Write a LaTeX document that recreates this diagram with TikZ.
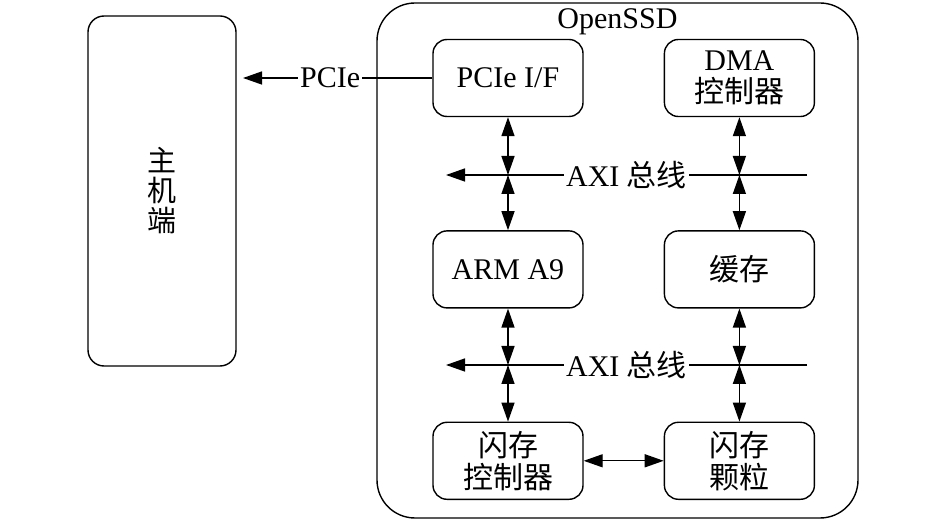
\documentclass[tikz,border=0pt]{standalone}
\usepackage{fontspec}
\setmainfont{Liberation Serif}
\newfontfamily\cjk{Noto Sans CJK SC}
\usetikzlibrary{arrows.meta, positioning}

\begin{document}
\begin{tikzpicture}[
    x=1pt, y=-1pt,
    node distance=113pt and 80pt,
    box/.style={rectangle, draw, line width=1.4pt, rounded corners=14pt, minimum width=150pt,
                minimum height=77pt, align=center, inner sep=0pt},
    arrow/.style={-{Triangle[length=19pt, width=13pt]}, line width=1.4pt},
    dblarrow/.style={{Triangle[length=19pt, width=13pt]}-{Triangle[length=19pt, width=13pt]}, line width=1.4pt},
    lbl/.style={fill=white, inner sep=2pt},
    every node/.style={font=\fontsize{30}{32}\selectfont}
]
\useasboundingbox (0,0) rectangle (946,521);

% Host and board outlines
\node[box, minimum width=148pt, minimum height=350pt, rounded corners=16pt,
      font=\fontsize{29}{30}\selectfont] (host) at (162,191) {{\cjk 主}\\{\cjk 机}\\{\cjk 端}};
\node[box, minimum width=481pt, minimum height=515pt, rounded corners=38pt] (ssd) at (617.5,260.5) {};
\node[anchor=north, inner sep=0pt] (ssdname) at ([yshift=-6pt]ssd.north) {OpenSSD};

% Left column
\node[box] (pcie) at (508,78) {PCIe I/F};
\node[box, below=of pcie] (arm) {ARM A9};
\node[box, below=of arm] (flashctrl) {{\cjk 闪存}\\{\cjk 控制器}};

% Right column
\node[box, right=of pcie] (dma) {DMA\\{\cjk 控制器}};
\node[box, below=of dma] (cache) {{\cjk 缓存}};
\node[box, below=of cache] (chips) {{\cjk 闪存}\\{\cjk 颗粒}};

% Bus ends
\coordinate (hostin) at (243,78);
\coordinate (bus1w) at (446,175);
\coordinate (bus1e) at (807,175);
\coordinate (bus2w) at (446,365);
\coordinate (bus2e) at (807,365);

% PCIe link and AXI buses
\draw[arrow] (pcie.west) -- node[lbl, pos=0.54] {PCIe} (hostin);
\draw[arrow] (bus1e) -- node[lbl] {AXI {\cjk 总线}} (bus1w);
\draw[arrow] (bus2e) -- node[lbl] {AXI {\cjk 总线}} (bus2w);

% Vertical arrows
\draw[dblarrow] (pcie.south) -- (pcie.south |- bus1w);
\draw[dblarrow] (pcie.south |- bus1w) -- (arm.north);
\draw[dblarrow] (arm.south) -- (arm.south |- bus2w);
\draw[dblarrow] (arm.south |- bus2w) -- (flashctrl.north);
\draw[dblarrow] (dma.south) -- (dma.south |- bus1w);
\draw[dblarrow] (dma.south |- bus1w) -- (cache.north);
\draw[dblarrow] (cache.south) -- (cache.south |- bus2w);
\draw[dblarrow] (cache.south |- bus2w) -- (chips.north);
\draw[dblarrow] (flashctrl) -- (chips);

\end{tikzpicture}
\end{document}
